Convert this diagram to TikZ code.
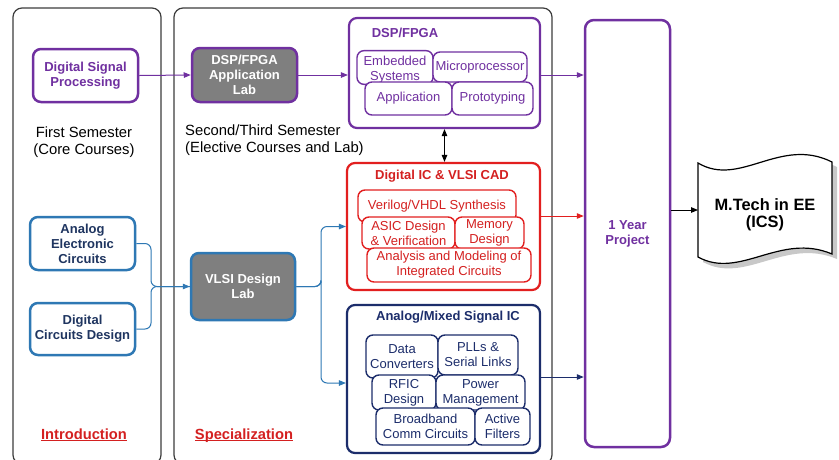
\documentclass[tikz,border=0pt]{standalone}
\usepackage{fontspec}
\setmainfont{Liberation Sans}
\usetikzlibrary{arrows.meta}
\definecolor{pur}{HTML}{7030A0}
\definecolor{redc}{HTML}{E21F1F}
\definecolor{redt}{HTML}{D42020}
\definecolor{navy}{HTML}{1C2D6B}
\definecolor{bluec}{HTML}{2E78B4}
\definecolor{navyt}{HTML}{1F3560}
\definecolor{labgray}{HTML}{7F7F7F}
\definecolor{panelc}{HTML}{3C3C3C}
\definecolor{shadowc}{HTML}{C8C8C8}
\newcommand\fsz{\fontsize{13}{15}\selectfont}
\newcommand\fbig{\fontsize{14.8}{17}\selectfont}
\newcommand\fdoc{\fontsize{16.4}{17}\selectfont}
\tikzset{
  panel/.style={draw=panelc, line width=1.2pt, rounded corners=9pt},
  bigbox/.style={draw, line width=2.2pt, rounded corners=8pt, fill=white},
  inbox/.style={draw, line width=1.4pt, rounded corners=7pt, fill=white, align=center, inner sep=1pt, font=\fsz},
  course/.style={draw, line width=2.5pt, rounded corners=8pt, align=center, inner sep=1pt, font=\bfseries\fsz},
  labbox/.style={course, fill=labgray, text=white},
  tip/.style={-{Triangle[length=7pt,width=5.5pt]}},
  dtip/.style={{Triangle[length=7pt,width=5.5pt]}-{Triangle[length=7pt,width=5.5pt]}},
}
\begin{document}
\begin{tikzpicture}[x=1pt,y=-1pt]
\clip (0,0) rectangle (839,459);
\fill[white] (0,0) rectangle (839,459);
% panels
\node[panel, minimum width=148pt, minimum height=456pt] (p1) at (87,236) {};
\node[panel, minimum width=378pt, minimum height=456pt] (p2) at (363,236) {};
% semester texts
\node[font=\fbig, align=center, inner sep=0pt] (sem1) at (84,142) {First Semester\\(Core Courses)};
\node[font=\fbig, align=left, anchor=west, inner sep=0pt] (sem2) at (185,140) {Second/Third Semester\\(Elective Courses and Lab)};
\node[font=\bfseries\fontsize{14.7}{17}\selectfont, text=redt, inner sep=0pt] (intro) at (84,440) {\underline{\smash{Introduction}}};
\node[font=\bfseries\fontsize{14.7}{17}\selectfont, text=redt, inner sep=0pt] (spec) at (244,440) {\underline{\smash{Specialization}}};
% first semester courses
\node[course, draw=pur, text=pur, minimum width=105pt, minimum height=53pt] (dsp) at (85.5,75.5) {Digital Signal\\Processing};
\node[course, draw=bluec, text=navyt, minimum width=105pt, minimum height=53pt] (aec) at (82.5,243.5) {Analog\\Electronic\\Circuits};
\node[course, draw=bluec, text=navyt, minimum width=105pt, minimum height=52pt] (dcd) at (82.5,329) {Digital\\Circuits Design};
% labs
\node[labbox, draw=pur, minimum width=105pt, minimum height=54pt] (applab) at (244.5,75) {DSP/FPGA\\Application\\Lab};
\node[labbox, draw=bluec, minimum width=104pt, minimum height=67pt] (vlsi) at (243,286.5) {VLSI Design\\Lab};
% DSP/FPGA group
\node[bigbox, draw=pur, minimum width=191pt, minimum height=110pt] (dspfpga) at (444.5,73) {};
\node[font=\bfseries\fsz, text=pur, inner sep=0pt] (t1) at (405,33) {DSP/FPGA};
\node[inbox, draw=pur, text=pur, minimum width=76pt, minimum height=31pt] (emb) at (395,67.5) {\rule{0pt}{14pt}Embedded\\Systems};
\node[inbox, draw=pur, text=pur, minimum width=94pt, minimum height=30pt] (micro) at (480,67) {Microprocessor};
\node[inbox, draw=pur, text=pur, minimum width=87pt, minimum height=33pt] (appl) at (408.5,98.5) {Application};
\node[inbox, draw=pur, text=pur, minimum width=81pt, minimum height=33pt] (proto) at (492.5,98.5) {Prototyping};
% Digital IC group
\node[bigbox, draw=redc, minimum width=193pt, minimum height=127pt] (digic) at (443.5,226.5) {};
\node[font=\bfseries\fsz, text=redt, inner sep=0pt] (t2) at (442,176) {Digital IC \& VLSI CAD};
\node[inbox, draw=redc, text=redt, minimum width=158pt, minimum height=32pt] (veri) at (437,206) {Verilog/VHDL Synthesis};
\node[inbox, draw=redc, text=redt, minimum width=93pt, minimum height=32pt] (asic) at (408.5,233) {ASIC Design\\\& Verification};
\node[inbox, draw=redc, text=redt, minimum width=69pt, minimum height=32pt] (mem) at (489.5,233) {Memory\\Design};
\node[inbox, draw=redc, text=redt, minimum width=164pt, minimum height=34pt] (anl) at (449,265) {Analysis and Modeling of\\Integrated Circuits};
% Analog/Mixed group
\node[bigbox, draw=navy, minimum width=193pt, minimum height=148pt] (amix) at (443.5,379) {};
\node[font=\bfseries\fsz, text=navy, inner sep=0pt] (t3) at (448,317) {Analog/Mixed Signal IC};
\node[inbox, draw=navy, text=navy, minimum width=72pt, minimum height=43pt] (dconv) at (402,356.5) {Data\\Converters};
\node[inbox, draw=navy, text=navy, minimum width=80pt, minimum height=40pt] (pll) at (478,355) {PLLs \&\\Serial Links};
\node[inbox, draw=navy, text=navy, minimum width=64pt, minimum height=35pt] (rfic) at (404,392.5) {RFIC\\Design};
\node[inbox, draw=navy, text=navy, minimum width=89pt, minimum height=35pt] (pwr) at (480.5,392.5) {Power\\Management};
\node[inbox, draw=navy, text=navy, minimum width=99pt, minimum height=37pt] (bb) at (425.5,426.5) {Broadband\\Comm Circuits};
\node[inbox, draw=navy, text=navy, minimum width=55pt, minimum height=37pt] (act) at (502.5,426.5) {Active\\Filters};
% project
\node[draw=pur, line width=2.5pt, rounded corners=9pt, minimum width=85pt, minimum height=427pt, font=\bfseries\fsz, text=pur, align=center] (proj) at (627.5,233.5) {1 Year\\Project};
% document
\fill[shadowc, shift={(5,5)}] (698,163) .. controls (740,188) and (780,136) .. (832,162) -- (832,254) .. controls (780,232) and (740,280) .. (698,257) -- cycle;
\draw[line width=1.2pt, fill=white] (698,163) .. controls (740,188) and (780,136) .. (832,162) -- (832,254) .. controls (780,232) and (740,280) .. (698,257) -- cycle;
\node[font=\bfseries\fdoc, align=center, inner sep=0pt] (mtech) at (765,215) {M.Tech in EE\\(ICS)};
\coordinate (docin) at (698,210);
% connectors
\draw[pur, line width=1pt, tip] (dsp.east) -- (applab.west);
\draw[pur, line width=1pt, tip] (applab.east) -- (applab.east -| dspfpga.west);
\coordinate (ya) at (0,75);
\coordinate (yb) at (0,216);
\coordinate (yc) at (0,377);
\draw[pur, line width=1pt, tip] (dspfpga.east |- ya) -- (proj.west |- ya);
\draw[redc, line width=1pt, tip] (digic.east |- yb) -- (proj.west |- yb);
\draw[navy, line width=1pt, tip] (amix.east |- yc) -- (proj.west |- yc);
\draw[black, line width=1pt, dtip] (dspfpga.south) -- (dspfpga.south |- digic.north);
\draw[black, line width=1pt, tip] (proj.east |- docin) -- (docin);
\coordinate (m) at (151,286.5);
\draw[bluec, line width=1pt, rounded corners=6pt] (aec.east) -| (m) -- (vlsi.west);
\draw[bluec, line width=1pt, rounded corners=6pt, tip] (dcd.east) -| (m) -- (vlsi.west);
\coordinate (b) at (321,286.5);
\coordinate (yd) at (0,383);
\draw[bluec, line width=1pt, rounded corners=6pt, tip] (vlsi.east) -| (b) |- (digic.west);
\draw[bluec, line width=1pt, rounded corners=6pt, tip] (vlsi.east) -| (b) |- (amix.west |- yd);
\end{tikzpicture}
\end{document}
